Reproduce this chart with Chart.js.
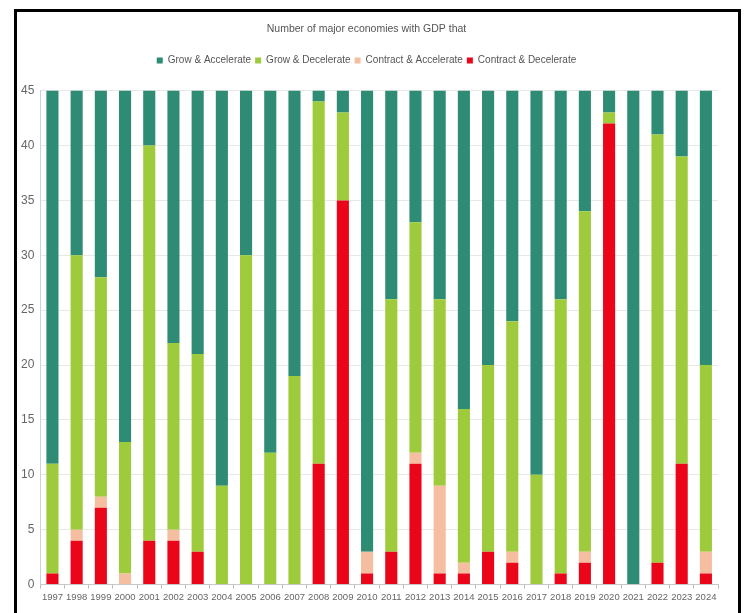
<!DOCTYPE html>
<html>
<head>
<meta charset="utf-8">
<script src="https://cdn.jsdelivr.net/npm/chart.js@4"></script>
<style>
  html, body { margin: 0; padding: 0; background: #fff; }
  #wrap { position: relative; width: 744px; height: 613px; }
  #frame {
    position: absolute; left: 14px; top: 9px; width: 721px; height: 620px;
    border: 3px solid #000; border-bottom: none; pointer-events: none;
  }
</style>
</head>
<body>
<div id="wrap">
  <canvas id="gdp-chart" width="744" height="613"></canvas>
  <div id="frame"></div>
</div>
<script>
const years = ['1997', '1998', '1999', '2000', '2001', '2002', '2003', '2004', '2005', '2006',
  '2007', '2008', '2009', '2010', '2011', '2012', '2013', '2014', '2015', '2016',
  '2017', '2018', '2019', '2020', '2021', '2022', '2023', '2024'];

// stacked bottom-up: contract & decelerate, contract & accelerate, grow & decelerate, grow & accelerate
const contractDecelerate = [1, 4, 7, 0, 4, 4, 3, 0, 0, 0, 0, 11, 35, 1, 3, 11, 1, 1, 3, 2, 0, 1, 2, 42, 0, 2, 11, 1];
const contractAccelerate = [0, 1, 1, 1, 0, 1, 0, 0, 0, 0, 0, 0, 0, 2, 0, 1, 8, 1, 0, 1, 0, 0, 1, 0, 0, 0, 0, 2];
const growDecelerate = [10, 25, 20, 12, 36, 17, 18, 9, 30, 12, 19, 33, 8, 0, 23, 21, 17, 14, 17, 21, 10, 25, 31, 1, 0, 39, 28, 17];
const growAccelerate = [34, 15, 17, 32, 5, 23, 24, 36, 15, 33, 26, 1, 2, 42, 19, 12, 19, 29, 25, 21, 35, 19, 11, 2, 45, 4, 6, 25];

const yTicks = [0, 5, 10, 15, 20, 25, 30, 35, 40, 45];

const tealColor = 'rgb(46,140,116)';
const limeColor = 'rgb(158,203,59)';
const peachColor = 'rgb(246,190,160)';
const redColor = 'rgb(235,5,25)';
const textColor = '#666';
const labelFont = '"Liberation Sans", Arial, sans-serif';

const barOpts = { barPercentage: 0.5, categoryPercentage: 1.0, borderWidth: 0 };

// extra room between the legend and the plot
const legendGap = {
  id: 'legendGap',
  afterInit(chart) {
    const fit = chart.legend.fit;
    chart.legend.fit = function () {
      fit.call(this);
      this.height += 15;
    };
  },
};

new Chart(document.getElementById('gdp-chart'), {
  type: 'bar',
  data: {
    labels: years,
    datasets: [
      { label: 'Contract & Decelerate', data: contractDecelerate, backgroundColor: redColor, ...barOpts },
      { label: 'Contract & Accelerate', data: contractAccelerate, backgroundColor: peachColor, ...barOpts },
      { label: 'Grow & Decelerate', data: growDecelerate, backgroundColor: limeColor, ...barOpts },
      { label: 'Grow & Accelerate', data: growAccelerate, backgroundColor: tealColor, ...barOpts },
    ],
  },
  options: {
    responsive: false,
    animation: false,
    layout: { padding: { left: 15, right: 26, top: 23, bottom: 7 } },
    plugins: {
      title: {
        display: true,
        text: 'Number of major economies with GDP that',
        color: '#555',
        font: { family: labelFont, size: 10.5, weight: 'normal' },
        padding: { top: 0, bottom: 16 },
      },
      legend: {
        reverse: true,
        labels: {
          color: '#555',
          font: { family: labelFont, size: 10 },
          boxWidth: 6,
          boxHeight: 6,
          padding: 4,
        },
      },
      tooltip: { enabled: false },
    },
    scales: {
      x: {
        stacked: true,
        grid: { display: true, drawOnChartArea: false, color: '#bbb', tickLength: 4, offset: true },
        border: { color: '#c8c8c8' },
        ticks: { color: textColor, font: { family: labelFont, size: 9.5 }, maxRotation: 0, autoSkip: false, padding: 3 },
      },
      y: {
        stacked: true,
        min: 0,
        max: 45,
        afterBuildTicks: axis => { axis.ticks = yTicks.map(v => ({ value: v })); },
        grid: { color: '#e8e8e8', drawTicks: false },
        border: { color: '#c8d4d8' },
        ticks: { color: textColor, font: { family: labelFont, size: 12 }, padding: 6 },
      },
    },
  },
  plugins: [legendGap],
});
</script>
</body>
</html>
